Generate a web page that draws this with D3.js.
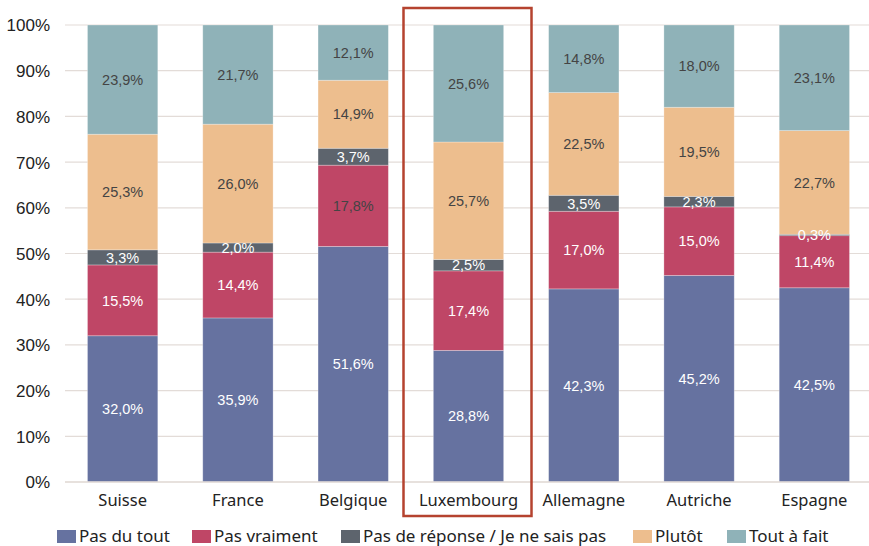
<!DOCTYPE html>
<html><head><meta charset="utf-8">
<script src="https://cdn.jsdelivr.net/npm/d3@7"></script>
<style>body{margin:0;background:#fff;}svg{display:block;}</style>
</head><body>
<svg id="chart" width="869" height="546"></svg>
<script>
const categories = ["Suisse","France","Belgique","Luxembourg","Allemagne","Autriche","Espagne"];
const seriesNames = ["Pas du tout","Pas vraiment","Pas de réponse / Je ne sais pas","Plutôt","Tout à fait"];
const pasDuTout   = [32.0, 35.9, 51.6, 28.8, 42.3, 45.2, 42.5];
const pasVraiment = [15.5, 14.4, 17.8, 17.4, 17.0, 15.0, 11.4];
const pasDeReponse= [3.3, 2.0, 3.7, 2.5, 3.5, 2.3, 0.3];
const plutot      = [25.3, 26.0, 14.9, 25.7, 22.5, 19.5, 22.7];
const toutAFait   = [23.9, 21.7, 12.1, 25.6, 14.8, 18.0, 23.1];
const yTicks = [0,0.1,0.2,0.3,0.4,0.5,0.6,0.7,0.8,0.9,1];
const highlighted = "Luxembourg";

const colors = ["#6672a0","#bf4666","#5d646d","#edbe8e","#8fb2b8"];
const labelColors = ["#ffffff","#ffffff","#ffffff","#444444","#444444"];

const seriesArrays = [pasDuTout, pasVraiment, pasDeReponse, plutot, toutAFait];
const rows = categories.map((c,i)=>{
  const r = {cat:c};
  seriesNames.forEach((s,k)=>r[s]=seriesArrays[k][i]);
  return r;
});

const svg = d3.select("#chart");
const x = d3.scaleBand().domain(categories).range([65,872]).paddingInner(0.39).paddingOuter(0.195);
const y = d3.scaleLinear().domain([0,1]).range([482,25]);

const stack = d3.stack().keys(seriesNames).offset(d3.stackOffsetExpand);
const stacked = stack(rows);

const axisFont = "'Noto Sans', Lato, sans-serif";

// gridlines
svg.append("g").selectAll("line").data(yTicks).join("line")
  .attr("x1",65).attr("x2",869)
  .attr("y1",d=>y(d)).attr("y2",d=>y(d))
  .attr("stroke","#e3dcd8").attr("stroke-width",1.2);

// y axis labels
const yAxis = d3.axisLeft(y).tickValues(yTicks).tickFormat(d=>Math.round(d*100)+"%").tickSize(0).tickPadding(0);
const ya = svg.append("g").attr("transform","translate(50,0)").call(yAxis);
ya.select(".domain").remove();
ya.selectAll("text").attr("font-family","'Liberation Sans', Arial, sans-serif").attr("font-size",17).attr("fill","#222").attr("dy","0.35em");

// bars
const layers = svg.append("g").selectAll("g").data(stacked).join("g")
  .attr("fill",(d,i)=>colors[i]);
layers.selectAll("rect").data(d=>d).join("rect")
  .attr("x",d=>x(d.data.cat))
  .attr("width",x.bandwidth())
  .attr("y",d=>y(d[1]))
  .attr("height",d=>y(d[0])-y(d[1]))
  .attr("stroke","rgba(255,255,255,0.35)").attr("stroke-width",0.8);

// labels
const fmt = v => v.toFixed(1).replace(".",",")+"%";
stacked.forEach((layer,k)=>{
  svg.append("g").selectAll("text").data(layer).join("text")
    .attr("x",d=>x(d.data.cat)+x.bandwidth()/2)
    .attr("y",d=>y((d[0]+d[1])/2))
    .attr("dy","0.36em")
    .attr("text-anchor","middle")
    .attr("font-family","'Liberation Sans', Arial, sans-serif")
    .attr("font-size",14.5)
    .attr("fill",d=>(k===1 && d.data.cat==="Belgique") ? "#444444" : labelColors[k])
    .text(d=>fmt(d.data[layer.key]));
});

// baseline
svg.append("line").attr("x1",65).attr("x2",869).attr("y1",y(0)).attr("y2",y(0))
  .attr("stroke","#e3dcd8").attr("stroke-width",1.5);

// x axis labels
const xAxis = d3.axisBottom(x).tickSize(0).tickPadding(0);
const xa = svg.append("g").attr("transform","translate(0,500)").call(xAxis);
xa.select(".domain").remove();
xa.selectAll("text").attr("font-family",axisFont).attr("font-size",16.5).attr("fill","#222").attr("dy","0.35em");

// highlight box
const hx = x(highlighted)+x.bandwidth()/2;
svg.append("rect").attr("x",hx-65).attr("y",8).attr("width",128).attr("height",508)
  .attr("fill","none").attr("stroke","#b5432f").attr("stroke-width",2.5);

// legend
const legendX = [57,192,341,633,727];
const lg = svg.append("g").selectAll("g").data(seriesNames).join("g")
  .attr("transform",(d,i)=>`translate(${legendX[i]},530)`);
lg.append("rect").attr("width",19).attr("height",13).attr("fill",(d,i)=>colors[i]);
lg.append("text").attr("x",22).attr("y",6.5).attr("dy","0.35em")
  .attr("font-family",axisFont).attr("font-size",17).attr("fill","#222")
  .text(d=>d);
</script>
</body></html>
